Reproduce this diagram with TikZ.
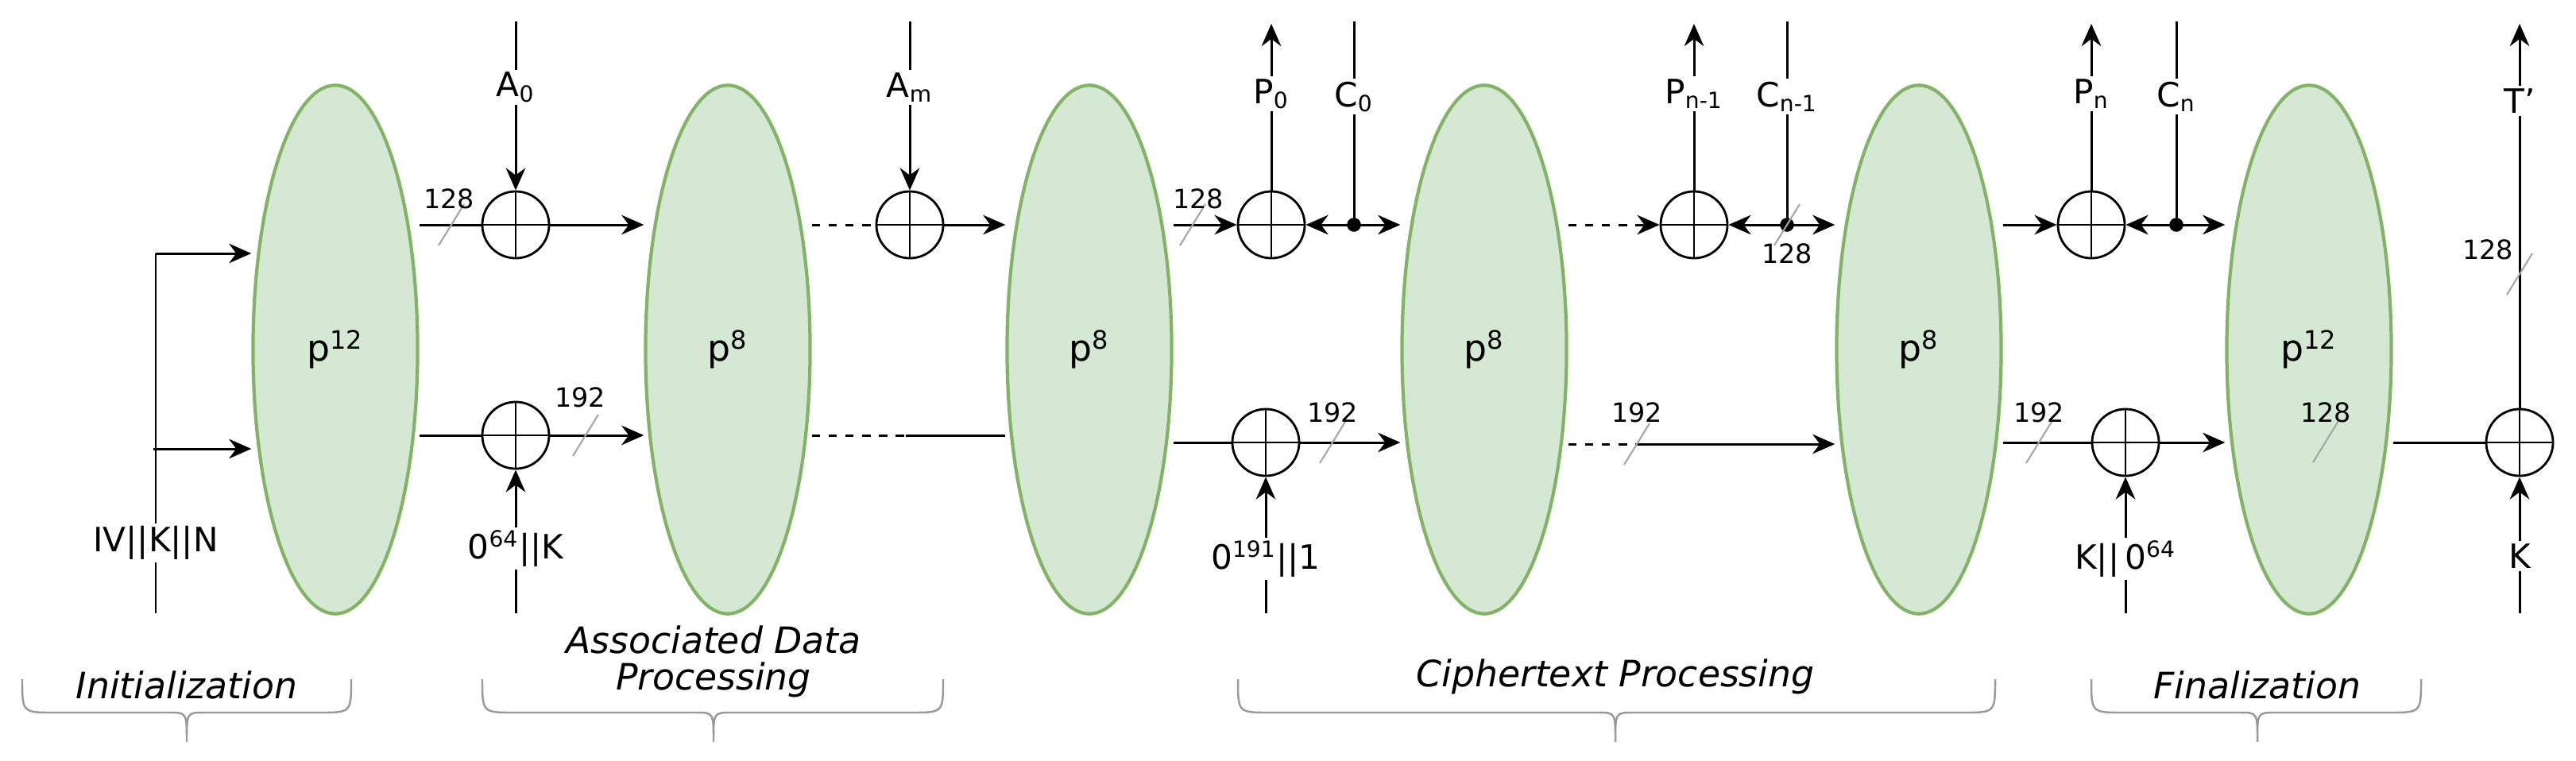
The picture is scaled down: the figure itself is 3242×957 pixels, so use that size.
\documentclass[tikz,border=0pt]{standalone}
\usepackage{fontspec}
\setmainfont{DejaVu Sans}
\usetikzlibrary{shapes.geometric,arrows.meta}
\definecolor{gfill}{HTML}{D5E8D4}
\definecolor{gdraw}{HTML}{82B366}
\newcommand\mybrace[3]{\draw[bracestyle] (#1,855) .. controls (#1,897) .. ({#1+40},897) -- ({#3-22},897) .. controls (#3,897) .. (#3,934) .. controls (#3,897) .. ({#3+22},897) -- ({#2-40},897) .. controls (#2,897) .. (#2,855);}
\newcommand\myslash[2]{\draw[slashstyle] ({#1-16},{#2+26}) -- ({#1+16},{#2-26});}
\begin{document}
\begin{tikzpicture}[x=0.01cm,y=-0.01cm,
  perm/.style={ellipse,draw=gdraw,fill=gfill,line width=1.2pt,minimum width=2.07cm,minimum height=6.65cm,inner sep=0pt,font=\fontsize{13}{15}\selectfont},
  xor/.style={circle,draw,line width=0.8pt,minimum size=0.84cm,inner sep=0pt,
    path picture={\draw[line width=0.8pt] (path picture bounding box.north)--(path picture bounding box.south) (path picture bounding box.west)--(path picture bounding box.east);}},
  ln/.style={line width=0.85pt},
  arr/.style={ln,-{Stealth[length=8pt,width=7pt]}},
  lab/.style={fill=white,inner sep=1pt,font=\fontsize{12}{14}\selectfont},
  num/.style={inner sep=0pt,font=\fontsize{9.5}{11}\selectfont},
  slashstyle/.style={gray!70,line width=0.6pt},
  bracestyle/.style={gray!80,line width=0.7pt},
  btext/.style={font=\fontsize{13}{15}\selectfont\itshape,fill=white,inner sep=1pt,align=center},
  dot/.style={circle,fill,inner sep=0pt,minimum size=5pt}]
\useasboundingbox (0,0) rectangle (3242,957);
\node[perm] (e1) at (422,440) {p\textsuperscript{12}};
\node[perm] (e2) at (916,440) {p\textsuperscript{8}};
\node[perm] (e3) at (1371,440) {p\textsuperscript{8}};
\node[perm] (e4) at (1868,440) {p\textsuperscript{8}};
\node[perm] (e5) at (2415,440) {p\textsuperscript{8}};
\node[perm] (e6) at (2906,440) {p\textsuperscript{12}};
\node[xor] (xa0) at (649,283) {};
\node[xor] (xb1) at (649,548) {};
\node[xor] (xam) at (1145,283) {};
\node[xor] (xp0) at (1600,283) {};
\node[xor] (xb2) at (1593,557) {};
\node[xor] (xpn1) at (2132,283) {};
\node[xor] (xpn) at (2632,283) {};
\node[xor] (xb3) at (2675,557) {};
\node[xor] (xt) at (3171,557) {};
% initialization
\coordinate (ivb) at (196,772); \coordinate (ivt) at (196,319); \coordinate (ivm) at (193,565);
\draw[ln] (ivb) -- (ivt) node[pos=0.195,lab] {IV||K||N};
\draw[arr] (ivt) -- (e1.west |- ivt);
\draw[arr] (ivm) -- (e1.west |- ivm);
% A0
\draw[ln] (e1.east |- xa0) -- (xa0.west);
\draw[arr] (xa0.east) -- (e2.west |- xa0);
\coordinate (a0t) at (649,27);
\draw[arr] (a0t) -- (xa0.north) node[pos=0.39,lab] {A\textsubscript{0}};
\myslash{568}{283} \node[num] at (565,250) {128};
\draw[ln] (e1.east |- xb1) -- (xb1.west);
\draw[arr] (xb1.east) -- (e2.west |- xb1);
\myslash{737}{548} \node[num] at (730,500) {192};
\coordinate (kb1) at (649,772);
\draw[arr] (kb1) -- (xb1.south) node[pos=0.45,lab] {0\textsuperscript{64}||K};
% Am
\draw[ln,dashed] (e2.east |- xam) -- (xam.west);
\draw[arr] (xam.east) -- (e3.west |- xam);
\coordinate (amt) at (1145,27);
\draw[arr] (amt) -- (xam.north) node[pos=0.39,lab] {A\textsubscript{m}};
\coordinate (m2) at (1140,548);
\draw[ln,dashed] (e2.east |- m2) -- (m2);
\draw[ln] (m2) -- (e3.west |- m2);
% P0 C0
\draw[arr] (e3.east |- xp0) -- (xp0.west);
\myslash{1501}{283} \node[num] at (1508,250) {128};
\coordinate (p0t) at (1600,30);
\draw[arr] (xp0.north) -- (p0t) node[pos=0.58,lab] {P\textsubscript{0}};
\coordinate (c0t) at (1704,27); \coordinate (c0d) at (1704,283);
\draw[ln] (c0t) -- (c0d) node[pos=0.37,lab] {C\textsubscript{0}};
\node[dot] at (c0d) {};
\draw[arr] (c0d) -- (xp0.east);
\draw[arr] (c0d) -- (e4.west |- c0d);
\draw[ln] (e3.east |- xb2) -- (xb2.west);
\draw[arr] (xb2.east) -- (e4.west |- xb2);
\myslash{1677}{557} \node[num] at (1677,519) {192};
\coordinate (ib2) at (1593,772);
\draw[arr] (ib2) -- (xb2.south) node[pos=0.4,lab] {0\textsuperscript{191}||1};
% Pn-1 Cn-1
\coordinate (m4) at (2060,283);
\draw[ln,dashed] (e4.east |- m4) -- (m4);
\draw[arr] (m4) -- (xpn1.west);
\coordinate (pn1t) at (2132,30);
\draw[arr] (xpn1.north) -- (pn1t) node[pos=0.58,lab] {P\textsubscript{n-1}};
\coordinate (cn1t) at (2249,27); \coordinate (cn1d) at (2249,283);
\draw[ln] (cn1t) -- (cn1d) node[pos=0.37,lab] {C\textsubscript{n-1}};
\node[dot] at (cn1d) {};
\draw[arr] (cn1d) -- (xpn1.east);
\draw[arr] (cn1d) -- (e5.west |- cn1d);
\myslash{2249}{283} \node[num] at (2249,319) {128};
\coordinate (m5) at (2060,559);
\draw[ln,dashed] (e4.east |- m5) -- (m5);
\draw[arr] (m5) -- (e5.west |- m5);
\myslash{2060}{559} \node[num] at (2060,519) {192};
% Pn Cn
\draw[arr] (e5.east |- xpn) -- (xpn.west);
\coordinate (pnt) at (2632,30);
\draw[arr] (xpn.north) -- (pnt) node[pos=0.58,lab] {P\textsubscript{n}};
\coordinate (cnt) at (2739,27); \coordinate (cnd) at (2739,283);
\draw[ln] (cnt) -- (cnd) node[pos=0.37,lab] {C\textsubscript{n}};
\node[dot] at (cnd) {};
\draw[arr] (cnd) -- (xpn.east);
\draw[arr] (cnd) -- (e6.west |- cnd);
\draw[ln] (e5.east |- xb3) -- (xb3.west);
\draw[arr] (xb3.east) -- (e6.west |- xb3);
\myslash{2566}{557} \node[num] at (2566,519) {192};
\coordinate (ib3) at (2675,772);
\draw[arr] (ib3) -- (xb3.south) node[pos=0.4,lab] {K||\,0\textsuperscript{64}};
% tag
\draw[ln] (e6.east |- xt) -- (xt.west);
\myslash{2927}{556} \node[num] at (2927,519) {128};
\coordinate (tt) at (3171,30);
\draw[arr] (xt.north) -- (tt) node[pos=0.8,lab] {T'};
\myslash{3171}{345} \node[num] at (3131,314) {128};
\coordinate (kt) at (3171,772);
\draw[arr] (kt) -- (xt.south) node[pos=0.42,lab] {K};
% braces
\mybrace{28}{442}{235}
\mybrace{607}{1187}{898}
\mybrace{1558}{2511}{2033}
\mybrace{2632}{3047}{2841}
\node[btext] at (235,862) {Initialization};
\node[btext,fill=none] at (898,833) {Associated Data\\[-2pt]Processing};
\node[btext] at (2033,852) {Ciphertext Processing};
\node[btext] at (2841,862) {Finalization};
\end{tikzpicture}
\end{document}
